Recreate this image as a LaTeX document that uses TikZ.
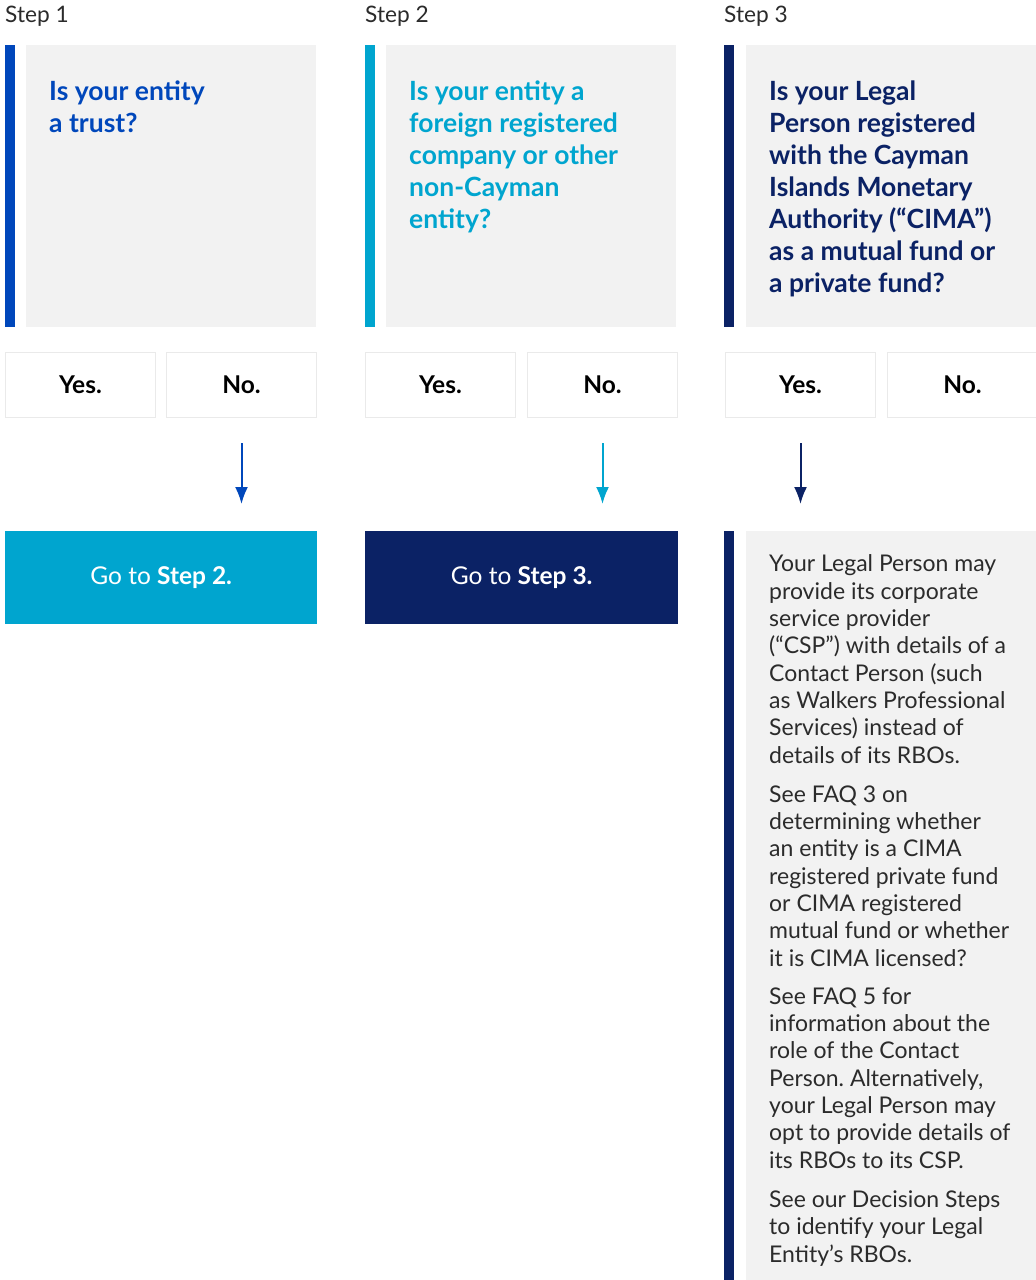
\documentclass[tikz,border=0pt]{standalone}
\usepackage{fontspec}
\setmainfont{Lato}
\usetikzlibrary{arrows.meta}
\usetikzlibrary{calc}
\frenchspacing

\definecolor{trustblue}{HTML}{0047BB}
\definecolor{foreigncyan}{HTML}{00A5CF}
\definecolor{cimanavy}{HTML}{0B2265}
\definecolor{panelgrey}{HTML}{F2F2F2}
\definecolor{edgegrey}{HTML}{EAEAEA}
\definecolor{bodytext}{HTML}{2B2B2B}

\tikzset{
	panel/.style={fill=panelgrey, inner sep=0, anchor=north west, minimum width=290pt, minimum height=282pt},
	bar/.style={fill=#1, inner sep=0, anchor=north west, minimum width=10pt, minimum height=282pt},
	answer/.style={draw=edgegrey, line width=1pt, fill=white, anchor=north west, inner sep=0, minimum width=150pt, minimum height=65pt, font=\fontsize{24.5}{28}\selectfont\bfseries},
	question/.style={anchor=base west, inner sep=0, align=left, font=\fontsize{26.5}{32}\selectfont\bfseries, text=#1},
	steplabel/.style={anchor=base west, inner sep=0, font=\fontsize{22.7}{26}\selectfont, text=bodytext},
	goto/.style={fill=#1, text=white, anchor=north west, inner sep=0, minimum width=312pt, minimum height=93pt, font=\fontsize{24.5}{28}\selectfont},
	body/.style={anchor=base west, inner sep=0, align=left, font=\fontsize{23}{27.3}\selectfont, text=bodytext},
	flow/.style={draw=#1, line width=2pt, -{Latex[length=17pt,width=13pt]}, shorten <=25pt, shorten >=27pt},
}

\begin{document}
\begin{tikzpicture}[x=1pt, y=-1pt]
	\useasboundingbox (0,0) rectangle (1036,1280);

	% step labels
	\node[steplabel] (s1) at (5,22) {Step 1};
	\node[steplabel] (s2) at (365,22) {Step 2};
	\node[steplabel] (s3) at (724,22) {Step 3};

	% questions (base = last line)
	\node[bar=trustblue] (bar1) at (5,45) {};
	\node[panel] (q1) at (26,45) {};
	\node[question=trustblue] (q1t) at (49,132) {Is your entity\\a trust?};

	\node[bar=foreigncyan] (bar2) at (365,45) {};
	\node[panel] (q2) at (386,45) {};
	\node[question=foreigncyan] (q2t) at (409,228) {Is your entity a\\foreign registered\\company or other\\non-Cayman\\entity?};

	\node[bar=cimanavy] (bar3) at (724,45) {};
	\node[panel] (q3) at (746,45) {};
	\node[question=cimanavy] (q3t) at (769,292) {Is your Legal\\Person registered\\with the Cayman\\Islands Monetary\\Authority (“CIMA”)\\as a mutual fund or\\a private fund?};

	% answers
	\node[answer] (yes1) at (5,352) {Yes.};
	\node[answer] (no1) at (166,352) {No.};
	\node[answer] (yes2) at (365,352) {Yes.};
	\node[answer] (no2) at (527,352) {No.};
	\node[answer] (yes3) at (725,352) {Yes.};
	\node[answer] (no3) at (887,352) {No.};

	% outcomes
	\node[goto=foreigncyan] (go1) at (5,531) {Go to \textbf{Step 2.}};
	\node[goto=cimanavy, minimum width=313pt] (go2) at (365,531) {Go to \textbf{Step 3.}};

	\node[bar=cimanavy, minimum height=749pt] (bar4) at (724,531) {};
	\node[panel, minimum height=749pt] (cima) at (746,531) {};
	\node[body] (cp1) at (769,763) {Your Legal Person may\\provide its corporate\\service provider\\(“CSP”) with details of a\\Contact Person (such\\as Walkers Professional\\Services) instead of\\details of its RBOs.};
	\node[body] (cp2) at (769,966) {See FAQ 3 on\\determining whether\\an entity is a CIMA\\registered private fund\\or CIMA registered\\mutual fund or whether\\it is CIMA licensed?};
	\node[body] (cp3) at (769,1168) {See FAQ 5 for\\information about the\\role of the Contact\\Person. Alternatively,\\your Legal Person may\\opt to provide details of\\its RBOs to its CSP.};
	\node[body] (cp4) at (769,1262) {See our Decision Steps\\to identify your Legal\\Entity’s RBOs.};

	% arrows
	\draw[flow=trustblue] (no1.south) -- (no1.south |- go1.north);
	\draw[flow=foreigncyan] (no2.south) -- (no2.south |- go2.north);
	\draw[flow=cimanavy] (yes3.south) -- (yes3.south |- cima.north);
\end{tikzpicture}
\end{document}
